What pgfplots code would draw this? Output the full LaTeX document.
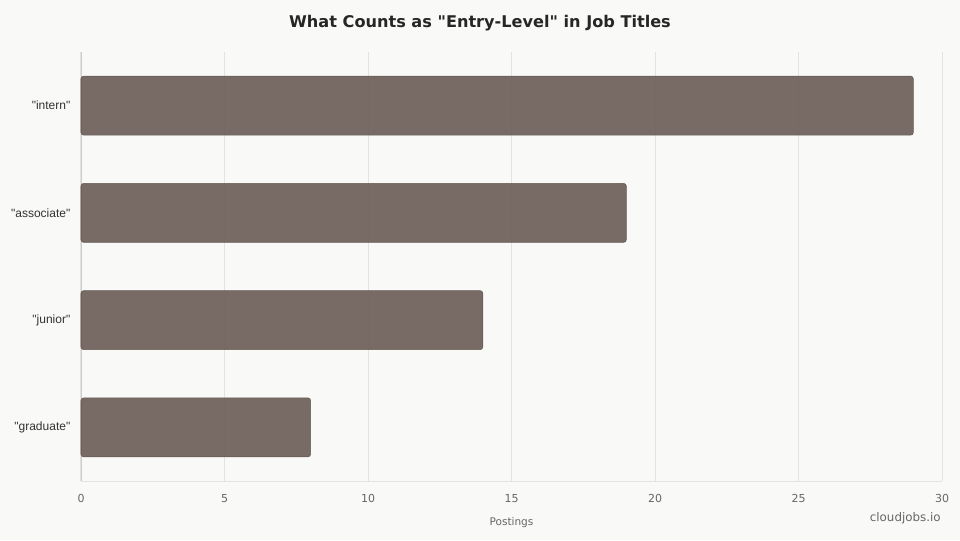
\documentclass[border=0pt]{standalone}
\usepackage{pgfplots}
\pgfplotsset{compat=1.18}
\usepackage{fontspec}
\setmainfont{DejaVu Sans}
\newfontfamily\dv{DejaVu Sans}
\newfontfamily\arial{Liberation Sans}
\definecolor{bg}{HTML}{F9F9F7}
\definecolor{barfill}{HTML}{6B5B55}
\definecolor{baredge}{HTML}{5E504B}
\definecolor{gridc}{HTML}{E3E3E0}
\definecolor{axisc}{HTML}{CCCCCC}
\definecolor{tickc}{HTML}{666666}
\begin{document}
\begin{tikzpicture}
\path[fill=bg] (0,0) rectangle (720pt,405pt);
\begin{axis}[
    at={(60.75pt,44.25pt)}, anchor=south west,
    scale only axis, width=645.75pt, height=321.75pt,
    xbar, bar width=44.25pt,
    xmin=0, xmax=30, ymin=-0.5, ymax=3.5,
    y dir=reverse,
    ytick={0,1,2,3},
    yticklabels={"intern","associate","junior","graduate"},
    yticklabel style={font=\arial\fontsize{9}{10}\selectfont, text=black!80, xshift=-4.5pt},
    xtick={0,5,10,15,20,25,30},
    xticklabel style={font=\fontsize{8.25}{9}\selectfont, text=tickc, yshift=-6.75pt},
    /pgf/number format/assume math mode=true,
    major tick length=0pt,
    axis x line*=bottom, axis y line*=left,
    x axis line style={draw=gridc, -},
    y axis line style={draw=axisc, -},
    xmajorgrids, grid style={draw=gridc, line width=0.75pt},
    xlabel={Postings},
    xlabel style={at={(axis description cs:0.5,0)}, anchor=center, yshift=-31.5pt,
                  font=\fontsize{7.9}{9}\selectfont, text=tickc},
    clip=false,
]
\addplot[fill=barfill, fill opacity=0.9, draw=baredge, draw opacity=0.9,
         rounded corners=2pt] coordinates {
    (29,0) (19,1) (14,2) (8,3)
};
\end{axis}
\node[font=\dv\bfseries\fontsize{12.1}{15}\selectfont, text=black!85] at (360pt,388pt) {What Counts as "Entry-Level" in Job Titles};
\node[font=\fontsize{8.9}{11}\selectfont, text=tickc, anchor=east] at (709pt,16pt) {cloudjobs.io};
\end{tikzpicture}
\end{document}
